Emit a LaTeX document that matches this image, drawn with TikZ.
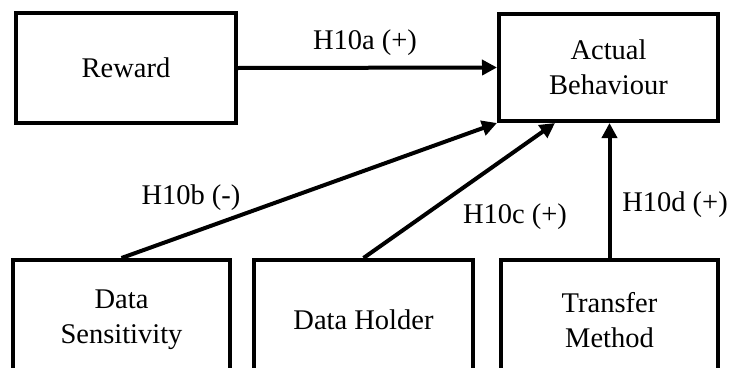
\documentclass[tikz,border=0pt]{standalone}
\usepackage{fontspec}
\setmainfont{Liberation Serif}
\usetikzlibrary{arrows.meta,calc}
\begin{document}
\begin{tikzpicture}[x=1pt,y=-1pt,
  box/.style={draw=black,line width=4pt,inner sep=0pt,align=center,
    font=\fontsize{28.5}{35}\selectfont},
  lbl/.style={inner sep=0pt,font=\fontsize{28.5}{35}\selectfont},
  conn/.style={line width=4pt,-{Triangle[length=15pt,width=15pt]}}]
\useasboundingbox (0,0) rectangle (731,367);
\begin{scope}
\clip (0,0) rectangle (731,367);
\node[box,minimum width=220pt,minimum height=110pt] (rew) at (126,68) {Reward};
\node[box,minimum width=219pt,minimum height=107pt] (act) at (608.5,67.5) {Actual\\Behaviour};
\node[box,minimum width=217pt,minimum height=120pt] (ds) at (121.5,320) {Data\\Sensitivity};
\node[box,minimum width=219pt,minimum height=120pt] (dh) at (363.5,320) {Data Holder};
\node[box,minimum width=217pt,minimum height=120pt] (tm) at (609.5,320) {Transfer\\Method};
\coordinate (actc) at ($(act.south west)!0.26!(act.south east)$);
\draw[conn] (rew.east) -- (act.west);
\draw[conn] (ds.north) -- (act.south west);
\draw[conn] (dh.north) -- (actc);
\draw[conn] (tm.north) -- (tm.north |- act.south);
\node[lbl] (la) at (365,43) {H10a (+)};
\node[lbl] (lb) at (191,198) {H10b (-)};
\node[lbl] (lc) at (515,217) {H10c (+)};
\node[lbl] (ld) at (675,205) {H10d (+)};
\end{scope}
\end{tikzpicture}
\end{document}
